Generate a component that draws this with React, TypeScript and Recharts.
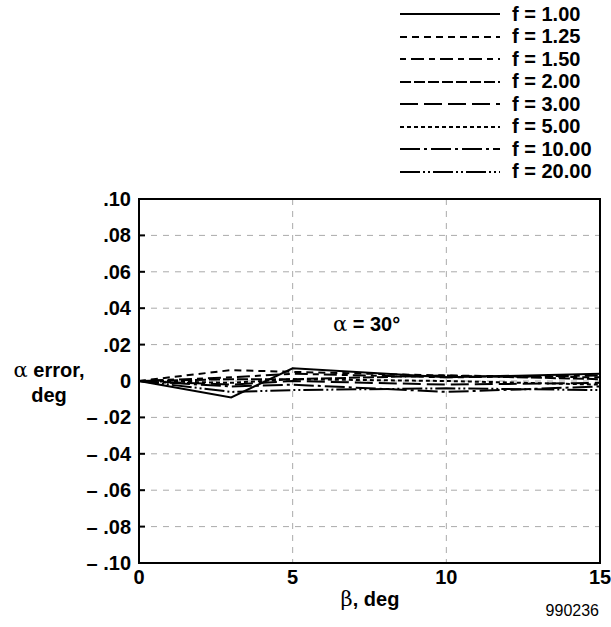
import React from "react";
import {
  LineChart,
  Line,
  XAxis,
  YAxis,
  CartesianGrid,
  ReferenceArea,
  Legend,
} from "recharts";

// beta, deg
const betaValues = [0, 3, 5, 10, 15];

// alpha error, deg, one array per f
const f100 = [0, -0.009, 0.007, 0.002, 0.004];
const f125 = [0, 0.006, 0.005, 0.003, 0.002];
const f150 = [0, 0.002, 0.004, 0.002, 0.003];
const f200 = [0, 0.001, 0.001, 0.003, 0.001];
const f300 = [0, -0.002, 0.0, -0.002, -0.001];
const f500 = [0, -0.001, 0.001, 0.0, -0.002];
const f1000 = [0, -0.003, -0.002, -0.006, -0.003];
const f2000 = [0, -0.006, -0.005, -0.004, -0.005];

const xTicks = [0, 5, 10, 15];
const yTicks = [-0.1, -0.08, -0.06, -0.04, -0.02, 0, 0.02, 0.04, 0.06, 0.08, 0.1];

const seriesList = [
  { key: "f100", name: "f = 1.00", values: f100, dash: "" },
  { key: "f125", name: "f = 1.25", values: f125, dash: "7 5" },
  { key: "f150", name: "f = 1.50", values: f150, dash: "6 5 13 5" },
  { key: "f200", name: "f = 2.00", values: f200, dash: "11 3" },
  { key: "f300", name: "f = 3.00", values: f300, dash: "18 6" },
  { key: "f500", name: "f = 5.00", values: f500, dash: "4 3" },
  { key: "f1000", name: "f = 10.00", values: f1000, dash: "20 4 3 4" },
  { key: "f2000", name: "f = 20.00", values: f2000, dash: "20 3 2 3 2 3" },
];

const data = betaValues.map((b, i) => {
  const row: Record<string, number> = { beta: b };
  seriesList.forEach((s) => {
    row[s.key] = s.values[i];
  });
  return row;
});

const FONT = '"Liberation Sans", Arial, Helvetica, sans-serif';
const GREEK = '"DejaVu Serif", "Liberation Serif", serif';

function fmtY(v: number): string {
  if (Math.abs(v) < 1e-9) return "0";
  const s = Math.abs(v).toFixed(2).replace(/^0/, "");
  return v < 0 ? "\u2013 " + s : s;
}

const LeftTick = (props: any) => {
  const { x, y, payload } = props;
  return (
    <g>
      <text
        x={x}
        y={y}
        textAnchor="end"
        dominantBaseline="central"
        fontFamily={FONT}
        fontWeight="bold"
        fontSize={20}
        fill="#000"
      >
        {fmtY(payload.value)}
      </text>
      <line x1={x + 8} x2={x + 14} y1={y} y2={y} stroke="#000" strokeWidth={2} />
    </g>
  );
};

const RightTick = (props: any) => {
  const { x, y } = props;
  return <line x1={x - 6} x2={x} y1={y} y2={y} stroke="#000" strokeWidth={2} />;
};

const renderLegend = () => (
  <div style={{ fontFamily: FONT }}>
    {seriesList.map((s) => (
      <div
        key={s.key}
        style={{ display: "flex", alignItems: "center", height: 22.5 }}
      >
        <svg width={112} height={10}>
          <line
            x1={10}
            x2={110}
            y1={5}
            y2={5}
            stroke="#000"
            strokeWidth={2}
            strokeDasharray={s.dash || undefined}
          />
        </svg>
        <span style={{ fontWeight: "bold", fontSize: 20, marginLeft: 10 }}>
          {s.name}
        </span>
      </div>
    ))}
  </div>
);

export default function App() {
  return (
    <div
      style={{
        position: "absolute",
        left: 0,
        top: 0,
        width: 611,
        height: 627,
        background: "#fff",
        fontFamily: FONT,
      }}
    >
      <LineChart
        width={611}
        height={627}
        data={data}
        margin={{ top: 199, right: 11, bottom: 34, left: 79 }}
      >
        <CartesianGrid yAxisId="l" stroke="#aaa" strokeDasharray="6 6" />
        <XAxis
          dataKey="beta"
          type="number"
          domain={[0, 15]}
          ticks={xTicks}
          axisLine={false}
          tickLine={false}
          tickSize={0}
          tickMargin={7}
          height={30}
          tick={{ fontFamily: FONT, fontWeight: "bold", fontSize: 20, fill: "#000" }}
        />
        <YAxis
          yAxisId="l"
          type="number"
          domain={[-0.1, 0.1]}
          ticks={yTicks}
          width={60}
          axisLine={false}
          tickLine={false}
          tickSize={0}
          tickMargin={8}
          tick={<LeftTick />}
          interval={0}
        />
        <YAxis
          yAxisId="r"
          orientation="right"
          type="number"
          domain={[-0.1, 0.1]}
          ticks={yTicks}
          width={0}
          axisLine={false}
          tickLine={false}
          tickSize={0}
          tickMargin={0}
          tick={<RightTick />}
          interval={0}
        />
        <ReferenceArea
          yAxisId="l"
          x1={0}
          x2={15}
          y1={-0.1}
          y2={0.1}
          fill="none"
          stroke="#000"
          strokeWidth={2}
        />
        {seriesList.map((s) => (
          <Line
            key={s.key}
            yAxisId="l"
            dataKey={s.key}
            name={s.name}
            type="linear"
            stroke="#000"
            strokeWidth={2}
            strokeDasharray={s.dash || undefined}
            dot={false}
            isAnimationActive={false}
          />
        ))}
        <Legend
          layout="vertical"
          align="center"
          verticalAlign="middle"
          content={renderLegend}
          wrapperStyle={{ top: 3, left: 390, width: 221, height: 185 }}
        />
      </LineChart>
      <div
        style={{
          position: "absolute",
          left: 333,
          top: 312,
          fontSize: 20,
          fontWeight: "bold",
          whiteSpace: "nowrap",
        }}
      >
        <span style={{ fontWeight: "normal", fontFamily: GREEK, fontSize: 21 }}>α</span> = 30°
      </div>
      <div
        style={{
          position: "absolute",
          left: 0,
          width: 98,
          top: 358,
          textAlign: "center",
          fontSize: 20,
          fontWeight: "bold",
          lineHeight: "25px",
          whiteSpace: "nowrap",
        }}
      >
        <span style={{ fontWeight: "normal", fontFamily: GREEK, fontSize: 21 }}>α</span> error,
        <br />
        deg
      </div>
      <div
        style={{
          position: "absolute",
          left: 270,
          width: 200,
          top: 587,
          textAlign: "center",
          fontSize: 20,
          fontWeight: "bold",
        }}
      >
        <span style={{ fontWeight: "normal", fontFamily: GREEK, fontSize: 21 }}>β</span>, deg
      </div>
      <div
        style={{
          position: "absolute",
          right: 12,
          top: 602,
          fontSize: 16,
        }}
      >
        990236
      </div>
    </div>
  );
}
